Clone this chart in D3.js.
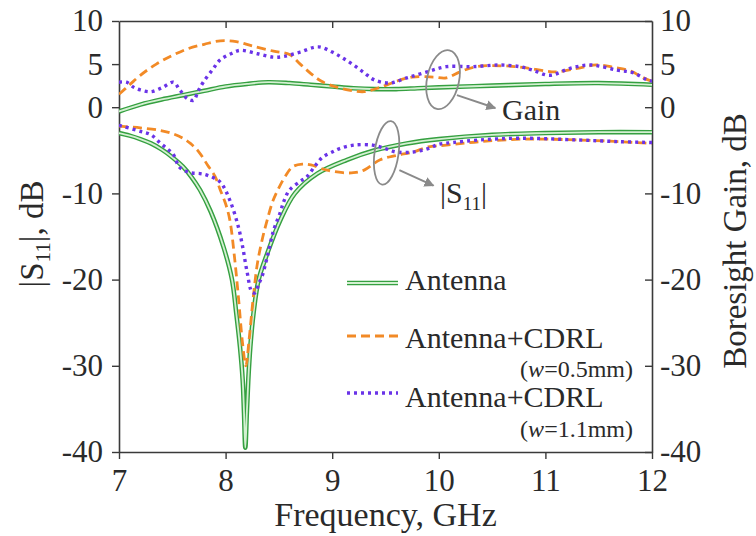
<!DOCTYPE html>
<html>
<head>
<meta charset="utf-8">
<script src="https://cdn.jsdelivr.net/npm/d3@7"></script>
<style>
  html, body { margin: 0; padding: 0; background: #fff; }
  svg { display: block; }
  text { font-family: "Liberation Serif", "DejaVu Serif", serif; fill: #2a2a2a; }
</style>
</head>
<body>
<svg id="chart" width="756" height="536"></svg>
<script>
// Frequency sweep, GHz
const xTicks = [7, 8, 9, 10, 11, 12];
const yTicks = [10, 5, 0, -10, -20, -30, -40];

// |S11| in dB, [frequency GHz, value]
const antennaS11 = [
  [7.0,-3.0],[7.1,-3.3],[7.2,-3.7],[7.3,-4.2],[7.4,-4.9],[7.5,-5.8],[7.6,-6.9],
  [7.68,-8.1],[7.76,-9.6],[7.86,-12.1],[7.98,-16.2],[8.06,-20],[8.10,-23.9],
  [8.135,-27.8],[8.16,-31.6],[8.173,-35.5],[8.185,-39.5],[8.199,-35.5],[8.213,-31.6],
  [8.232,-27.8],[8.262,-23.9],[8.31,-20],[8.39,-17.0],[8.51,-13.2],[8.65,-10.0],
  [8.86,-7.7],[9.14,-6.1],[9.4,-5.0],[9.7,-4.2],[10.0,-3.7],[10.5,-3.2],[11.0,-3.0],
  [11.5,-2.9],[12.0,-2.9]
];
const cdrl05S11 = [
  [7.0,-2.2],[7.2,-2.4],[7.39,-2.7],[7.51,-3.1],[7.6,-3.6],[7.67,-4.2],[7.75,-5.2],
  [7.83,-6.7],[7.9,-8.0],[7.95,-9.6],[8.0,-11.2],[8.04,-13.1],[8.08,-17],[8.12,-22],
  [8.16,-27.5],[8.19,-30],[8.22,-27],[8.26,-22],[8.3,-18],[8.35,-15],[8.39,-13.1],
  [8.44,-11],[8.49,-9.6],[8.56,-8.0],[8.63,-6.9],[8.72,-6.6],[8.8,-6.7],[8.95,-7.3],
  [9.1,-7.6],[9.2,-7.6],[9.3,-7.3],[9.45,-6.1],[9.6,-5.6],[9.76,-5.2],[9.9,-4.6],
  [10.07,-4.4],[10.38,-4.0],[10.8,-3.7],[11.3,-3.8],[11.7,-4.0],[12.0,-4.2]
];
const cdrl11S11 = [
  [7.0,-2.1],[7.2,-2.8],[7.3,-3.2],[7.39,-4.2],[7.45,-4.8],[7.51,-5.5],[7.57,-7.0],
  [7.67,-7.6],[7.76,-7.7],[7.83,-7.9],[7.95,-8.7],[8.04,-10.8],[8.12,-13.9],[8.16,-16.2],
  [8.2,-19],[8.25,-21.5],[8.28,-21.5],[8.31,-20.5],[8.34,-19.7],[8.39,-17.4],[8.45,-14.3],
  [8.51,-12.3],[8.55,-10.8],[8.6,-9.6],[8.7,-8.6],[8.76,-8.1],[8.84,-6.8],[8.91,-5.8],
  [9.0,-5.2],[9.07,-4.8],[9.2,-4.4],[9.38,-4.4],[9.5,-4.8],[9.6,-5.2],[9.76,-5.2],
  [9.9,-4.8],[10.0,-4.3],[10.13,-4.1],[10.38,-3.8],[10.76,-3.6],[11.3,-3.8],[11.7,-4.0],
  [12.0,-4.1]
];

// Boresight gain in dB, [frequency GHz, value]
const antennaGain = [
  [7.0,-0.5],[7.2,0.3],[7.4,0.9],[7.6,1.4],[7.8,1.9],[8.0,2.4],[8.2,2.7],[8.4,2.9],
  [8.6,2.8],[8.8,2.6],[9.0,2.4],[9.2,2.2],[9.4,2.1],[9.6,2.1],[9.8,2.2],[10.0,2.3],
  [10.5,2.5],[11.0,2.7],[11.5,2.8],[12.0,2.6]
];
const cdrl05Gain = [
  [7.0,1.5],[7.1,2.6],[7.2,3.7],[7.35,5.0],[7.5,6.0],[7.65,6.8],[7.8,7.3],[7.95,7.7],
  [8.1,7.6],[8.25,7.1],[8.45,6.5],[8.6,6.1],[8.7,5.0],[8.8,3.9],[8.9,3.0],[9.05,2.3],
  [9.2,1.9],[9.3,1.8],[9.45,2.3],[9.6,3.0],[9.75,3.5],[9.95,3.5],[10.07,3.4],[10.2,4.1],
  [10.35,4.7],[10.6,4.8],[10.8,4.6],[11.0,4.2],[11.1,4.1],[11.3,4.5],[11.48,4.9],
  [11.65,4.6],[11.8,4.2],[11.92,3.4],[12.0,3.0]
];
const cdrl11Gain = [
  [7.0,2.9],[7.07,2.9],[7.14,2.3],[7.2,2.0],[7.3,1.8],[7.41,2.3],[7.51,2.9],[7.57,2.0],
  [7.64,1.0],[7.7,0.8],[7.74,1.8],[7.79,2.9],[7.88,4.4],[7.95,5.5],[8.05,6.2],[8.14,6.6],
  [8.3,6.2],[8.45,5.8],[8.55,5.9],[8.7,6.4],[8.87,7.0],[9.0,6.4],[9.1,5.7],[9.2,4.9],
  [9.3,4.0],[9.39,3.2],[9.54,2.8],[9.7,3.4],[9.89,4.1],[10.07,4.7],[10.32,4.7],
  [10.57,4.9],[10.76,4.7],[10.88,4.3],[11.04,3.7],[11.23,4.5],[11.42,4.9],[11.67,4.3],
  [11.82,4.0],[11.95,3.2],[12.0,3.0]
];

const svg = d3.select("#chart");
const W = 756, H = 536;
const m = { left: 119, right: W - 652, top: 21, bottom: H - 452 };
const innerW = W - m.left - m.right;
const innerH = H - m.top - m.bottom;

const x = d3.scaleLinear().domain([7, 12]).range([0, innerW]);
const y = d3.scaleLinear().domain([-40, 10]).range([innerH, 0]);

const g = svg.append("g").attr("transform", `translate(${m.left},${m.top})`);

svg.append("defs").append("clipPath").attr("id", "plotClip")
  .append("rect").attr("x", 0).attr("y", -2).attr("width", innerW).attr("height", innerH + 4);

const axisColor = "#3a3a3a";
const tickFont = 31;
const plainNum = d => String(d);   // plain hyphen for negatives

function styleAxis(sel) {
  sel.attr("font-family", null).attr("font-size", null);
  sel.selectAll(".domain").attr("stroke", axisColor).attr("stroke-width", 1.6);
  sel.selectAll(".tick line").attr("stroke", axisColor).attr("stroke-width", 1.4);
  sel.selectAll(".tick text").style("font-size", tickFont + "px").attr("fill", "#2a2a2a");
}

// Bottom axis (outward ticks with labels)
g.append("g").attr("transform", `translate(0,${innerH})`)
  .call(d3.axisBottom(x).tickValues(xTicks).tickFormat(plainNum)
    .tickSizeInner(7).tickSizeOuter(0).tickPadding(10))
  .call(styleAxis);

// Top axis (inward ticks, no labels)
g.append("g")
  .call(d3.axisTop(x).tickValues([8, 9, 10, 11]).tickFormat("")
    .tickSizeInner(-7).tickSizeOuter(0))
  .call(styleAxis);

// Left axis: |S11|
g.append("g")
  .call(d3.axisLeft(y).tickValues(yTicks).tickFormat(plainNum)
    .tickSizeInner(7).tickSizeOuter(0).tickPadding(9))
  .call(styleAxis);

// Right axis: boresight gain
g.append("g").attr("transform", `translate(${innerW},0)`)
  .call(d3.axisRight(y).tickValues(yTicks).tickFormat(plainNum)
    .tickSizeInner(-7).tickSizeOuter(0).tickPadding(8))
  .call(styleAxis);

// Curves
const line = d3.line()
  .x(d => x(d[0])).y(d => y(d[1]))
  .curve(d3.curveCatmullRom.alpha(0.5));

const plot = g.append("g").attr("clip-path", "url(#plotClip)");

const green = "#35a040", greenInner = "#d4f0d2";
const orange = "#f28a26";
const purple = "#6a33e8";

function drawAntenna(data) {
  plot.append("path").attr("d", line(data)).attr("fill", "none")
    .attr("stroke", green).attr("stroke-width", 4.6).attr("stroke-linejoin", "round");
  plot.append("path").attr("d", line(data)).attr("fill", "none")
    .attr("stroke", greenInner).attr("stroke-width", 1.8).attr("stroke-linejoin", "round");
}
function drawDashed(data) {
  plot.append("path").attr("d", line(data)).attr("fill", "none")
    .attr("stroke", orange).attr("stroke-width", 2.8).attr("stroke-dasharray", "9,5");
}
function drawDotted(data) {
  plot.append("path").attr("d", line(data)).attr("fill", "none")
    .attr("stroke", purple).attr("stroke-width", 3.4).attr("stroke-dasharray", "3,4");
}

drawAntenna(antennaGain);
drawAntenna(antennaS11);
drawDashed(cdrl05Gain);
drawDashed(cdrl05S11);
drawDotted(cdrl11Gain);
drawDotted(cdrl11S11);

// Annotation rings and arrows
const grey = "#8a8a8a";
svg.select("defs").append("marker")
  .attr("id", "arrowHead").attr("viewBox", "0 0 10 10")
  .attr("refX", 9).attr("refY", 5).attr("markerWidth", 5).attr("markerHeight", 5)
  .attr("orient", "auto").attr("markerUnits", "strokeWidth")
  .append("path").attr("d", "M0,0 L10,5 L0,10 Z").attr("fill", grey);

function ring(f, v, rx, ry, rot) {
  g.append("ellipse")
    .attr("transform", `translate(${x(f)},${y(v)}) rotate(${rot})`)
    .attr("rx", rx).attr("ry", ry)
    .attr("fill", "none").attr("stroke", grey).attr("stroke-width", 1.8);
}
function arrow(f0, v0, f1, v1) {
  g.append("line")
    .attr("x1", x(f0)).attr("y1", y(v0)).attr("x2", x(f1)).attr("y2", y(v1))
    .attr("stroke", grey).attr("stroke-width", 2).attr("marker-end", "url(#arrowHead)");
}

ring(10.04, 3.2, 16, 30, 12);
arrow(10.17, 1.4, 10.53, -0.1);
ring(9.51, -5.3, 12, 32, 8);
arrow(9.63, -7.3, 9.95, -9.1);

// Annotation labels
svg.append("text").attr("x", 502).attr("y", 120).style("font-size", "30px").text("Gain");
const s11Label = svg.append("text").attr("x", 440).attr("y", 203).style("font-size", "30px");
s11Label.append("tspan").text("|S");
s11Label.append("tspan").attr("dy", 7).style("font-size", "19px").text("11");
s11Label.append("tspan").attr("dy", -7).text("|");

// Legend
const legend = svg.append("g");
const lx0 = 347, lx1 = 398, tx = 405;
legend.append("line").attr("x1", lx0).attr("x2", lx1).attr("y1", 283).attr("y2", 283)
  .attr("stroke", green).attr("stroke-width", 4.6);
legend.append("line").attr("x1", lx0).attr("x2", lx1).attr("y1", 283).attr("y2", 283)
  .attr("stroke", greenInner).attr("stroke-width", 1.8);
legend.append("line").attr("x1", lx0).attr("x2", lx1).attr("y1", 336).attr("y2", 336)
  .attr("stroke", orange).attr("stroke-width", 2.8).attr("stroke-dasharray", "9,5");
legend.append("line").attr("x1", lx0).attr("x2", lx1).attr("y1", 393).attr("y2", 393)
  .attr("stroke", purple).attr("stroke-width", 3.4).attr("stroke-dasharray", "3,4");

legend.append("text").attr("x", tx).attr("y", 290).style("font-size", "30px").text("Antenna");
legend.append("text").attr("x", tx).attr("y", 348).style("font-size", "30px").text("Antenna+CDRL");
legend.append("text").attr("x", tx).attr("y", 407).style("font-size", "30px").text("Antenna+CDRL");

function subLabel(yPos, val) {
  const t = legend.append("text").attr("x", 633).attr("y", yPos)
    .attr("text-anchor", "end").style("font-size", "24px");
  t.append("tspan").text("(");
  t.append("tspan").style("font-style", "italic").text("w");
  t.append("tspan").text(`=${val}mm)`);
}
subLabel(377, "0.5");
subLabel(437, "1.1");

// Axis titles
svg.append("text").attr("x", m.left + innerW / 2).attr("y", 526)
  .attr("text-anchor", "middle").style("font-size", "34px").text("Frequency, GHz");

const leftTitle = svg.append("text")
  .attr("transform", "translate(43,234) rotate(-90)")
  .attr("text-anchor", "middle").style("font-size", "33px");
leftTitle.append("tspan").text("|S");
leftTitle.append("tspan").attr("dy", 7).style("font-size", "21px").text("11");
leftTitle.append("tspan").attr("dy", -7).text("|, dB");

svg.append("text")
  .attr("transform", "translate(746,241) rotate(-90)")
  .attr("text-anchor", "middle").style("font-size", "33px").text("Boresight Gain, dB");
</script>
</body>
</html>
